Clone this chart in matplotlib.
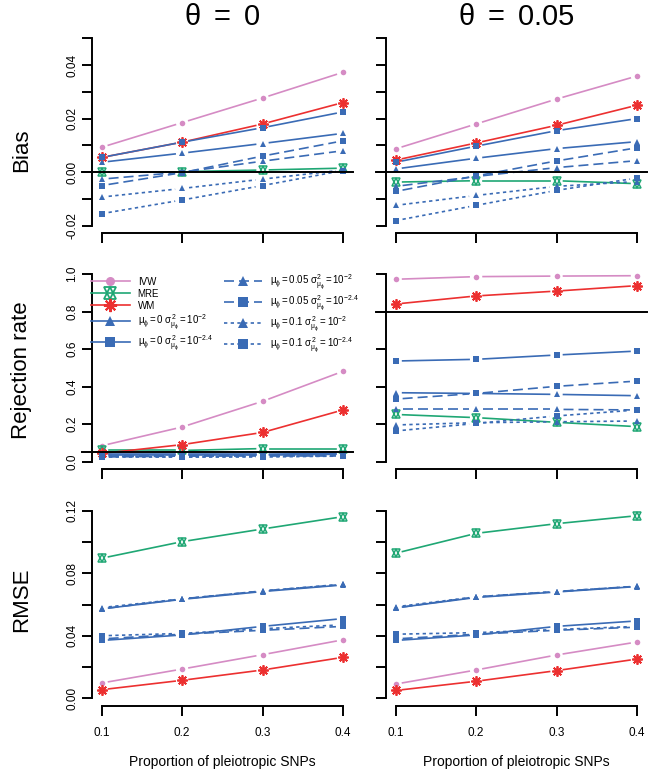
import matplotlib
matplotlib.use('Agg')
import matplotlib.pyplot as plt
import numpy as np
from matplotlib.lines import Line2D
from matplotlib.legend_handler import HandlerTuple

plt.rcParams['font.family'] = ['Liberation Sans', 'DejaVu Sans']
plt.rcParams['mathtext.fontset'] = 'custom'
plt.rcParams['mathtext.rm'] = 'Liberation Sans'
plt.rcParams['mathtext.it'] = 'Liberation Sans'
plt.rcParams['mathtext.bf'] = 'Liberation Sans:bold'

# proportion of pleiotropic SNPs
prop = [0.1, 0.2, 0.3, 0.4]

# row order: IVW, MRE, WM, mu0 s-2, mu0 s-2.4, mu0.05 s-2, mu0.05 s-2.4, mu0.1 s-2, mu0.1 s-2.4
bias_theta0 = [
    [0.0093, 0.0185, 0.0277, 0.0373],
    [0.0002, 0.0002, 0.0008, 0.0015],
    [0.0055, 0.0112, 0.0180, 0.0260],
    [0.0037, 0.0071, 0.0107, 0.0145],
    [0.0055, 0.0112, 0.0166, 0.0225],
    [-0.0026, 0.0000, 0.0041, 0.0080],
    [-0.0050, -0.0002, 0.0060, 0.0117],
    [-0.0093, -0.0061, -0.0026, 0.0008],
    [-0.0155, -0.0104, -0.0050, 0.0006],
]
bias_theta005 = [
    [0.0087, 0.0180, 0.0273, 0.0359],
    [-0.0037, -0.0032, -0.0032, -0.0043],
    [0.0045, 0.0109, 0.0175, 0.0250],
    [0.0012, 0.0052, 0.0088, 0.0114],
    [0.0037, 0.0097, 0.0155, 0.0200],
    [-0.0053, -0.0016, 0.0017, 0.0043],
    [-0.0072, -0.0014, 0.0042, 0.0091],
    [-0.0124, -0.0087, -0.0053, -0.0035],
    [-0.0181, -0.0124, -0.0068, -0.0022],
]
rej_theta0 = [
    [0.085, 0.185, 0.322, 0.482],
    [0.060, 0.060, 0.070, 0.070],
    [0.044, 0.091, 0.156, 0.276],
    [0.040, 0.040, 0.040, 0.045],
    [0.035, 0.035, 0.035, 0.040],
    [0.030, 0.030, 0.035, 0.035],
    [0.025, 0.030, 0.030, 0.030],
    [0.030, 0.025, 0.030, 0.030],
    [0.025, 0.025, 0.025, 0.030],
]
rej_theta005 = [
    [0.973, 0.987, 0.990, 0.992],
    [0.252, 0.235, 0.210, 0.187],
    [0.841, 0.884, 0.910, 0.939],
    [0.368, 0.364, 0.359, 0.352],
    [0.537, 0.546, 0.569, 0.590],
    [0.279, 0.279, 0.279, 0.276],
    [0.334, 0.364, 0.402, 0.430],
    [0.196, 0.208, 0.213, 0.217],
    [0.164, 0.204, 0.244, 0.276],
]
rmse_theta0 = [
    [0.0098, 0.0187, 0.0279, 0.0374],
    [0.0896, 0.1002, 0.1083, 0.1162],
    [0.0055, 0.0115, 0.0181, 0.0262],
    [0.0572, 0.0633, 0.0683, 0.0725],
    [0.0370, 0.0405, 0.0460, 0.0510],
    [0.0572, 0.0636, 0.0687, 0.0728],
    [0.0380, 0.0410, 0.0435, 0.0460],
    [0.0580, 0.0636, 0.0687, 0.0730],
    [0.0400, 0.0415, 0.0445, 0.0470],
]
rmse_theta005 = [
    [0.0091, 0.0181, 0.0277, 0.0360],
    [0.0928, 0.1055, 0.1117, 0.1168],
    [0.0050, 0.0109, 0.0177, 0.0251],
    [0.0578, 0.0645, 0.0680, 0.0715],
    [0.0370, 0.0405, 0.0460, 0.0495],
    [0.0578, 0.0649, 0.0683, 0.0717],
    [0.0380, 0.0410, 0.0435, 0.0455],
    [0.0585, 0.0649, 0.0683, 0.0717],
    [0.0410, 0.0420, 0.0440, 0.0460],
]

col_titles = [r'$\theta\ =\ 0$', r'$\theta\ =\ 0.05$']
row_titles = ['Bias', 'Rejection rate', 'RMSE']
legend_labels = [
    'IVW', 'MRE', 'WM',
    r'$\mu_\phi = 0\ \sigma^2_{\mu_\phi} = 10^{-2}$',
    r'$\mu_\phi = 0\ \sigma^2_{\mu_\phi} = 10^{-2.4}$',
    r'$\mu_\phi = 0.05\ \sigma^2_{\mu_\phi} = 10^{-2}$',
    r'$\mu_\phi = 0.05\ \sigma^2_{\mu_\phi} = 10^{-2.4}$',
    r'$\mu_\phi = 0.1\ \sigma^2_{\mu_\phi} = 10^{-2}$',
    r'$\mu_\phi = 0.1\ \sigma^2_{\mu_\phi} = 10^{-2.4}$',
]

pink = '#D58BC4'
green = '#1FA774'
red = '#EC3030'
blue = '#3A6BB5'

DASH = (0, (6, 3))
DOT = (0, (2, 2))
styles = [
    dict(color=pink, ls='-', marker='o', ms=4),
    dict(color=green, ls='-', marker='mre', ms=6),
    dict(color=red, ls='-', marker=(8, 2, 0), ms=7.5),
    dict(color=blue, ls='-', marker='^', ms=5),
    dict(color=blue, ls='-', marker='s', ms=4.3),
    dict(color=blue, ls=DASH, marker='^', ms=5),
    dict(color=blue, ls=DASH, marker='s', ms=4.3),
    dict(color=blue, ls=DOT, marker='^', ms=5),
    dict(color=blue, ls=DOT, marker='s', ms=4.3),
]

W, H = 650, 772
fig = plt.figure(figsize=(W / 100, H / 100), dpi=100)

col_px = [(92.0, 352.6), (386.0, 646.6)]
row_px = [(30.8, 233.2), (266.7, 469.2), (503.2, 705.8)]

row_cfg = [
    dict(ylim=(-0.0228, 0.0528), ticks=np.round(np.arange(-0.02, 0.0501, 0.01), 3),
         labels={-0.02: '-0.02', 0.0: '0.00', 0.02: '0.02', 0.04: '0.04'}),
    dict(ylim=(-0.04, 1.04), ticks=np.round(np.arange(0, 1.01, 0.2), 2),
         labels={0.0: '0.0', 0.2: '0.2', 0.4: '0.4', 0.6: '0.6', 0.8: '0.8', 1.0: '1.0'}),
    dict(ylim=(-0.0048, 0.1248), ticks=np.round(np.arange(0, 0.1201, 0.02), 3),
         labels={0.0: '0.00', 0.04: '0.04', 0.08: '0.08', 0.12: '0.12'}),
]
panel_data = [[bias_theta0, bias_theta005],
              [rej_theta0, rej_theta005],
              [rmse_theta0, rmse_theta005]]
ref_lines = [[0.0, 0.0], [0.05, 0.8], [None, None]]


def draw_marker(ax, x, y, st):
    if st['marker'] == 'mre':
        for m in ['^', 'v']:
            ax.plot(x, y, ls='none', marker=m, ms=st['ms'], mfc='none',
                    mec=st['color'], mew=1.1, zorder=4)
    elif isinstance(st['marker'], tuple):
        ax.plot(x, y, ls='none', marker=st['marker'], ms=st['ms'],
                mec=st['color'], mew=1.3, zorder=4)
    else:
        ax.plot(x, y, ls='none', marker=st['marker'], ms=st['ms'],
                color=st['color'], mew=0, zorder=4)


def gapped_line(ax, xs, ys, st, gap=7):
    pts = ax.transData.transform(np.column_stack([xs, ys]))
    inv = ax.transData.inverted()
    for i in range(len(xs) - 1):
        p0, p1 = pts[i], pts[i + 1]
        d = p1 - p0
        L = np.hypot(*d)
        if L <= 2 * gap:
            continue
        seg = inv.transform([p0 + d * gap / L, p1 - d * gap / L])
        ax.plot(seg[:, 0], seg[:, 1], color=st['color'], ls=st['ls'], lw=1.2, zorder=3)


for r in range(3):
    for c in range(2):
        x0, x1 = col_px[c]
        top, bot = row_px[r]
        ax = fig.add_axes([x0 / W, 1 - bot / H, (x1 - x0) / W, (bot - top) / H])
        cfg = row_cfg[r]
        ax.set_xlim(0.088, 0.412)
        ax.set_ylim(*cfg['ylim'])
        for s in ['top', 'right']:
            ax.spines[s].set_visible(False)
        ax.spines['left'].set_bounds(cfg['ticks'][0], cfg['ticks'][-1])
        ax.spines['bottom'].set_bounds(0.1, 0.4)
        for s in ['left', 'bottom']:
            ax.spines[s].set_linewidth(1.4)
        ax.set_xticks(prop)
        ax.set_yticks(cfg['ticks'])
        ax.tick_params(length=7, width=1.4, labelsize=8.5)
        ax.tick_params(axis='y', pad=3)
        ax.tick_params(axis='x', pad=8)
        if c == 0:
            ax.set_yticklabels([cfg['labels'].get(float(t), '') for t in cfg['ticks']],
                               rotation=90, va='center')
        else:
            ax.set_yticklabels([])
        if r == 2:
            ax.set_xticklabels(['0.1', '0.2', '0.3', '0.4'])
        else:
            ax.set_xticklabels([])

        data = panel_data[r][c]
        for k, ys in enumerate(data):
            gapped_line(ax, prop, ys, styles[k])
            draw_marker(ax, prop, ys, styles[k])

        h = ref_lines[r][c]
        if h is not None:
            ax.plot([0.075, 0.412], [h, h], color='black', lw=1.4, clip_on=False, zorder=5)

        if r == 1 and c == 0:
            handles = []
            for k, st in enumerate(styles):
                if st['marker'] == 'mre':
                    h1 = Line2D([], [], color=st['color'], ls='-', lw=1.2, marker='^',
                                ms=st['ms'] + 2, mfc='none', mec=st['color'], mew=1.3)
                    h2 = Line2D([], [], ls='none', marker='v', ms=st['ms'] + 2,
                                mfc='none', mec=st['color'], mew=1.3)
                    handles.append((h1, h2))
                elif isinstance(st['marker'], tuple):
                    handles.append(Line2D([], [], color=st['color'], ls=st['ls'], lw=1.2,
                                          marker=st['marker'], ms=st['ms'] + 2, mew=1.5))
                else:
                    handles.append(Line2D([], [], color=st['color'], ls=st['ls'], lw=1.2,
                                          marker=st['marker'], ms=st['ms'] + 2.5, mew=0))
            ax.legend(handles, legend_labels, ncol=2, loc='upper left',
                      bbox_to_anchor=(91 / W, 1 - 273 / H), bbox_transform=fig.transFigure,
                      frameon=False, fontsize=7, handlelength=4.0, handletextpad=0.8,
                      labelspacing=0.2, columnspacing=1.1, borderpad=0, borderaxespad=0,
                      handler_map={tuple: HandlerTuple(ndivide=1, pad=0)})

# column titles, row titles and x labels
for c, t in enumerate(col_titles):
    cx = (col_px[c][0] + col_px[c][1]) / 2 / W
    fig.text(cx, 1 - 17 / H, t, ha='center', va='center', fontsize=21)
    fig.text(cx, 1 - 762 / H, 'Proportion of pleiotropic SNPs', ha='center',
             va='center', fontsize=10)
for r, t in enumerate(row_titles):
    cy = 1 - [150, 370, 600][r] / H
    fig.text(22 / W, cy, t, rotation=90, ha='center', va='center', fontsize=16)

fig.savefig('out.png', dpi=100)
